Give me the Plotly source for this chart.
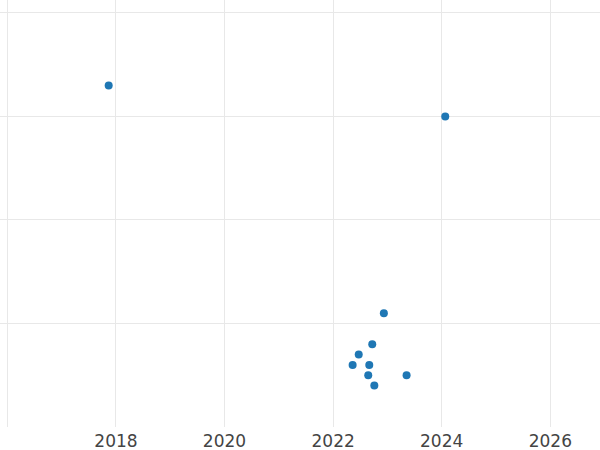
import plotly.graph_objects as go

dates = ["2017-11-13", "2024-01-25", "2022-12-08", "2022-09-21", "2022-06-22",
         "2022-05-12", "2022-09-01", "2022-08-25", "2023-05-10", "2022-10-05"]
values = [33, 30, 11, 8, 7, 6, 6, 5, 5, 4]

x_range = ["2015-11-13", "2026-12-01"]
y_range = [0, 41.25]

fig = go.Figure(go.Scatter(
    x=dates,
    y=values,
    mode="markers",
    marker=dict(color="#1f77b4", size=8),
    hoverinfo="x+y",
))

fig.update_layout(
    template="none",
    width=600,
    height=450,
    margin={"l": 0, "r": 0, "t": 0, "b": 23},
    paper_bgcolor="white",
    plot_bgcolor="white",
    font=dict(family="DejaVu Sans", size=17, color="#444"),
    showlegend=False,
)
fig.update_xaxes(
    type="date",
    range=x_range,
    dtick="M24",
    tick0="2016-01-01",
    tickformat="%Y",
    showgrid=True,
    gridcolor="#e8e8e8",
    gridwidth=1,
    zeroline=False,
    showline=False,
    ticks="",
    ticklabelstandoff=2,
    automargin=False,
)
fig.update_yaxes(
    range=y_range,
    dtick=10,
    showgrid=True,
    gridcolor="#e8e8e8",
    gridwidth=1,
    zeroline=False,
    showline=False,
    ticks="",
    showticklabels=False,
    automargin=False,
)

# page has a default 8px body margin; drop it so the chart sits at the corner
fig.write_html("out.html", config={"displayModeBar": False},
               post_script="document.body.style.margin = '0';")
